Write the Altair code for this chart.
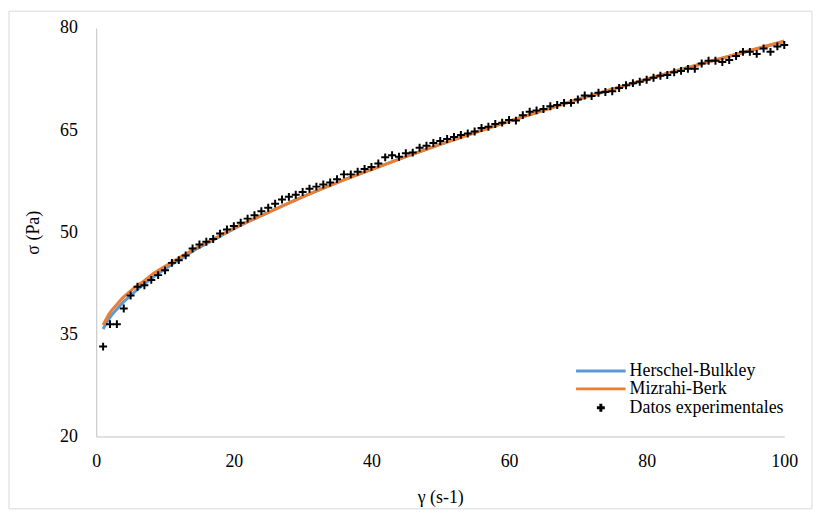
import altair as alt
import pandas as pd

# Experimental data (shear rate, shear stress)
gamma_exp = list(range(1, 101))
sigma_exp = [
    33.2, 36.5, 36.5, 38.8, 40.7, 42.0, 42.2, 43.0, 43.7, 44.4,
    45.5, 45.9, 46.6, 47.6, 48.2, 48.6, 49.0, 49.8, 50.4, 50.9,
    51.4, 52.0, 52.5, 53.1, 53.6, 54.2, 54.8, 55.2, 55.5, 55.9,
    56.4, 56.7, 57.0, 57.3, 57.8, 58.5, 58.5, 58.9, 59.3, 59.6,
    60.1, 61.0, 61.3, 61.1, 61.6, 61.7, 62.4, 62.7, 63.1, 63.4,
    63.7, 64.0, 64.3, 64.5, 64.8, 65.3, 65.5, 65.9, 66.1, 66.5,
    66.4, 67.2, 67.7, 67.9, 68.1, 68.5, 68.7, 69.0, 69.0, 69.5,
    70.1, 70.0, 70.5, 70.6, 70.7, 71.2, 71.6, 71.9, 72.1, 72.4,
    72.7, 73.0, 73.1, 73.5, 73.7, 74.0, 74.0, 74.8, 75.2, 75.2,
    75.0, 75.3, 75.9, 76.5, 76.5, 76.2, 77.0, 76.5, 77.3, 77.5,
]

# Model curves
gamma_fit = [1, 2, 3, 4, 5, 6, 7, 8, 10, 12, 14, 16, 18, 20, 25, 30, 35, 40,
             45, 50, 55, 60, 65, 70, 75, 80, 85, 90, 95, 100]
sigma_hb = [35.8, 37.5, 38.7, 39.8, 40.7, 41.6, 42.4, 43.2, 44.6, 45.9, 47.2,
            48.3, 49.4, 50.5, 52.9, 55.2, 57.3, 59.25, 61.1, 62.9, 64.7, 66.3,
            67.9, 69.5, 71.0, 72.45, 73.9, 75.3, 76.65, 78.0]
sigma_mb = [36.4, 38.2, 39.4, 40.5, 41.4, 42.2, 42.9, 43.7, 45.0, 46.2, 47.4,
            48.5, 49.5, 50.6, 52.9, 55.2, 57.3, 59.2, 61.1, 62.9, 64.6, 66.3,
            67.9, 69.5, 71.0, 72.5, 73.9, 75.3, 76.7, 78.1]

series = ["Herschel-Bulkley", "Mizrahi-Berk", "Datos experimentales"]
colors = ["#5B9BD5", "#ED7D31", "#000000"]
shapes = ["M-6.25,0H6.25", "M-6.25,0H6.25", "M-1,0H1M0,-1V1"]

x_ticks = [0, 20, 40, 60, 80, 100]
y_ticks = [20, 35, 50, 65, 80]

df_exp = pd.DataFrame({"g": gamma_exp, "s": sigma_exp, "serie": series[2]})
df_hb = pd.DataFrame({"g": gamma_fit, "s": sigma_hb, "serie": series[0]})
df_mb = pd.DataFrame({"g": gamma_fit, "s": sigma_mb, "serie": series[1]})

FONT = "Liberation Serif"

xenc = alt.X("g:Q", scale=alt.Scale(domain=[0, 100], nice=False),
             axis=alt.Axis(values=x_ticks, title="γ (s-1)", labelPadding=16,
                           labelFlush=False, titlePadding=19))
yenc = alt.Y("s:Q", scale=alt.Scale(domain=[20, 80], nice=False),
             axis=alt.Axis(values=y_ticks, title="σ (Pa)", labelPadding=19,
                           labelFlush=False, titlePadding=17))

leg = alt.Legend(title=None, orient="none", legendX=500, legendY=337,
                 symbolSize=64, symbolStrokeWidth=3, labelOffset=20,
                 labelFont=FONT, labelFontSize=18, labelColor="#000000",
                 padding=0, rowPadding=0)

color_enc = alt.Color("serie:N", scale=alt.Scale(domain=series, range=colors),
                      legend=leg)
shape_enc = alt.Shape("serie:N", scale=alt.Scale(domain=series, range=shapes),
                      legend=leg)

hb = alt.Chart(df_hb).mark_line(strokeWidth=3, interpolate="monotone").encode(
    x=xenc, y=yenc, color=color_enc)
mb = alt.Chart(df_mb).mark_line(strokeWidth=3, interpolate="monotone").encode(
    x=xenc, y=yenc, color=color_enc)

pts = alt.Chart(df_exp).mark_point(filled=False, size=64, strokeWidth=2,
                                   opacity=1).encode(
    x=xenc, y=yenc, color=color_enc, shape=shape_enc,
)

frame = alt.Chart(alt.Data(values=[{"a": 1}])).mark_rect(
    fill="transparent", stroke="#D9D9D9", strokeWidth=1).encode(
    x=alt.value(-88), x2=alt.value(722), y=alt.value(-17), y2=alt.value(485))

chart = alt.layer(frame, hb, mb, pts).properties(
    width=694, height=412, padding=0, background="white"
).configure_view(stroke=None).configure_axis(
    grid=False, ticks=False, domainColor="#BFBFBF", domainWidth=1,
    labelFont=FONT, labelFontSize=18, labelColor="#000000",
    titleFont=FONT, titleFontSize=18, titleFontWeight="normal",
    titleColor="#000000",
)

chart.save("out.html", embed_options={"renderer": "svg", "actions": False})
